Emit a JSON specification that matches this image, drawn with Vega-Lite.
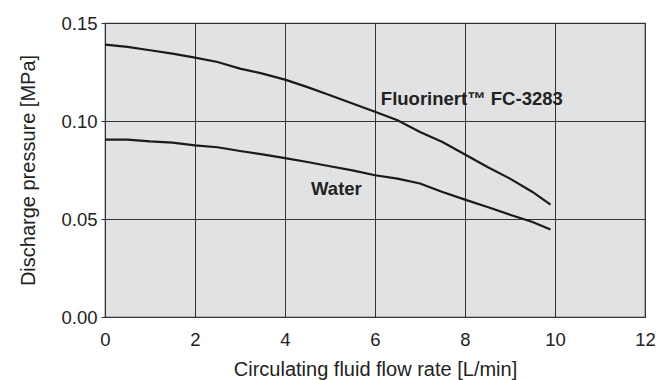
{
  "$schema": "https://vega.github.io/schema/vega-lite/v6.json",
  "width": 540,
  "height": 294,
  "autosize": "none",
  "padding": {"left": 105, "top": 23, "right": 14, "bottom": 63},
  "background": "white",
  "config": {
    "font": "Liberation Sans",
    "view": {"fill": "#e1e2e4", "stroke": "#333333", "strokeWidth": 1.2}
  },
  "datasets": {
    "curves": [
      {"flow": 0, "pressure": 0.1390, "fluid": "Fluorinert"},
      {"flow": 0.5, "pressure": 0.1378, "fluid": "Fluorinert"},
      {"flow": 1, "pressure": 0.1361, "fluid": "Fluorinert"},
      {"flow": 1.5, "pressure": 0.1344, "fluid": "Fluorinert"},
      {"flow": 2, "pressure": 0.1323, "fluid": "Fluorinert"},
      {"flow": 2.5, "pressure": 0.1301, "fluid": "Fluorinert"},
      {"flow": 3, "pressure": 0.1267, "fluid": "Fluorinert"},
      {"flow": 3.5, "pressure": 0.1242, "fluid": "Fluorinert"},
      {"flow": 4, "pressure": 0.1211, "fluid": "Fluorinert"},
      {"flow": 4.5, "pressure": 0.1173, "fluid": "Fluorinert"},
      {"flow": 5, "pressure": 0.1131, "fluid": "Fluorinert"},
      {"flow": 5.5, "pressure": 0.1089, "fluid": "Fluorinert"},
      {"flow": 6, "pressure": 0.1047, "fluid": "Fluorinert"},
      {"flow": 6.5, "pressure": 0.1004, "fluid": "Fluorinert"},
      {"flow": 7, "pressure": 0.0944, "fluid": "Fluorinert"},
      {"flow": 7.5, "pressure": 0.0893, "fluid": "Fluorinert"},
      {"flow": 8, "pressure": 0.0829, "fluid": "Fluorinert"},
      {"flow": 8.5, "pressure": 0.0765, "fluid": "Fluorinert"},
      {"flow": 9, "pressure": 0.0706, "fluid": "Fluorinert"},
      {"flow": 9.5, "pressure": 0.0638, "fluid": "Fluorinert"},
      {"flow": 9.9, "pressure": 0.0573, "fluid": "Fluorinert"},
      {"flow": 0, "pressure": 0.0905, "fluid": "Water"},
      {"flow": 0.5, "pressure": 0.0905, "fluid": "Water"},
      {"flow": 1, "pressure": 0.0896, "fluid": "Water"},
      {"flow": 1.5, "pressure": 0.0890, "fluid": "Water"},
      {"flow": 2, "pressure": 0.0876, "fluid": "Water"},
      {"flow": 2.5, "pressure": 0.0866, "fluid": "Water"},
      {"flow": 3, "pressure": 0.0847, "fluid": "Water"},
      {"flow": 3.5, "pressure": 0.0830, "fluid": "Water"},
      {"flow": 4, "pressure": 0.0811, "fluid": "Water"},
      {"flow": 4.5, "pressure": 0.0791, "fluid": "Water"},
      {"flow": 5, "pressure": 0.0769, "fluid": "Water"},
      {"flow": 5.5, "pressure": 0.0748, "fluid": "Water"},
      {"flow": 6, "pressure": 0.0723, "fluid": "Water"},
      {"flow": 6.5, "pressure": 0.0706, "fluid": "Water"},
      {"flow": 7, "pressure": 0.0681, "fluid": "Water"},
      {"flow": 7.5, "pressure": 0.0638, "fluid": "Water"},
      {"flow": 8, "pressure": 0.0599, "fluid": "Water"},
      {"flow": 8.5, "pressure": 0.0561, "fluid": "Water"},
      {"flow": 9, "pressure": 0.0522, "fluid": "Water"},
      {"flow": 9.5, "pressure": 0.0485, "fluid": "Water"},
      {"flow": 9.9, "pressure": 0.0446, "fluid": "Water"}
    ],
    "labels": [
      {"flow": 6.13, "pressure": 0.1114, "text": "Fluorinert™ FC-3283"},
      {"flow": 4.58, "pressure": 0.0655, "text": "Water"}
    ]
  },
  "layer": [
    {
      "data": {"name": "curves"},
      "mark": {"type": "line", "color": "#1a1a1a", "strokeWidth": 2.2},
      "encoding": {
        "x": {
          "field": "flow", "type": "quantitative",
          "scale": {"domain": [0, 12], "nice": false},
          "axis": {
            "title": "Circulating fluid flow rate [L/min]",
            "values": [0, 2, 4, 6, 8, 10, 12],
            "format": "d",
            "grid": true, "gridColor": "#333333", "gridWidth": 1, "gridOpacity": 1,
            "domain": false, "ticks": false, "labelFlush": false,
            "labelFontSize": 18.5, "labelColor": "#222222", "labelPadding": 13,
            "titleFontSize": 20, "titleFontWeight": "normal", "titleColor": "#222222", "titlePadding": 11
          }
        },
        "y": {
          "field": "pressure", "type": "quantitative",
          "scale": {"domain": [0, 0.15], "nice": false},
          "axis": {
            "title": "Discharge pressure [MPa]",
            "values": [0, 0.05, 0.1, 0.15],
            "format": ".2f",
            "grid": true, "gridColor": "#333333", "gridWidth": 1, "gridOpacity": 1,
            "domain": false, "ticks": true, "tickSize": 4, "tickColor": "#333333",
            "labelFontSize": 18.5, "labelColor": "#222222", "labelPadding": 4,
            "titleFontSize": 20, "titleFontWeight": "normal", "titleColor": "#222222", "titlePadding": 22
          }
        },
        "detail": {"field": "fluid"}
      }
    },
    {
      "data": {"name": "labels"},
      "mark": {"type": "text", "align": "left", "baseline": "middle", "fontWeight": "bold", "fontSize": 18.5, "color": "#222222"},
      "encoding": {
        "x": {"field": "flow", "type": "quantitative"},
        "y": {"field": "pressure", "type": "quantitative"},
        "text": {"field": "text"}
      }
    }
  ]
}
